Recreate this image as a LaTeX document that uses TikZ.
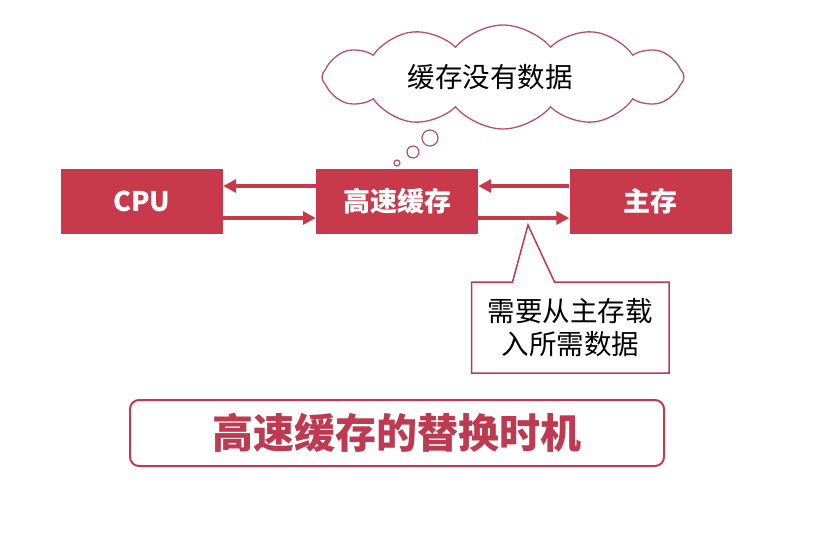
\documentclass[tikz,border=0pt]{standalone}
\usepackage{fontspec}
\setmainfont{Noto Sans CJK SC}
\usetikzlibrary{shapes.symbols,arrows.meta,calc}
\definecolor{boxred}{HTML}{C8394B}
\definecolor{linered}{HTML}{BE3A50}
\definecolor{cloudred}{HTML}{B65066}
\tikzset{
  x=1pt,y=-1pt,
  unitbox/.style={fill=boxred,draw=none,minimum width=162pt,minimum height=65pt,inner sep=0pt,
     text=white,font=\fontsize{27pt}{30pt}\selectfont\bfseries},
  flow/.style={draw=boxred,line width=4pt,-{Triangle[length=13pt,width=13pt]}},
}
\begin{document}
\begin{tikzpicture}
\useasboundingbox (0,0) rectangle (832,557);
% cloud
\node[cloud,draw=cloudred,line width=1.3pt,cloud puffs=12,cloud puff arc=100,aspect=3.4,
      minimum width=362pt,minimum height=104pt,inner sep=0pt] (cloud) at (503,77) {};
\node[font=\fontsize{27.5pt}{30pt}\selectfont] (cloudtext) at (490,77) {缓存没有数据};
\node[circle,draw=cloudred,line width=1.2pt,minimum size=16pt,inner sep=0pt] (b1) at (430,138) {};
\node[circle,draw=cloudred,line width=1.2pt,minimum size=12pt,inner sep=0pt] (b2) at (413,152) {};
\node[circle,draw=cloudred,line width=1.2pt,minimum size=6pt,inner sep=0pt] (b3) at (397,163) {};
% boxes
\node[unitbox] (cpu) at (142,201.5) {CPU};
\node[unitbox] (cache) at (397,201.5) {高速缓存};
\node[unitbox] (mem) at (650.5,201.5) {主存};
% arrows
\draw[flow] ([yshift=15.5pt]cache.west) -- ([yshift=15.5pt]cpu.east);
\draw[flow] ([yshift=-16.5pt]cpu.east) -- ([yshift=-16.5pt]cache.west);
\draw[flow] ([yshift=15.5pt]mem.west) -- ([yshift=15.5pt]cache.east);
\draw[flow] ([yshift=-16.5pt]cache.east) -- ([yshift=-16.5pt]mem.west);
% callout
\coordinate (tip) at (528,225);
\coordinate (nw) at (471.5,282);
\coordinate (se) at (669,373);
\draw[draw=linered,line width=1.5pt,fill=white,line join=miter]
  (nw) -- ($(nw)+(41,0)$) -- (tip) -- ($(nw)+(83,0)$)
  -- (nw -| se) -- (se) -- (se -| nw) -- cycle;
\node[inner sep=0pt,align=center,font=\fontsize{27.5pt}{33pt}\selectfont] (note)
  at ($(nw)!0.5!(se)$) {需要从主存载\\入所需数据};
% title
\node[draw=linered,line width=2pt,rounded corners=9pt,minimum width=534pt,minimum height=66pt,
      text=linered,font=\fontsize{41pt}{44pt}\selectfont\bfseries] (title) at (397,433) {高速缓存的替换时机};
\end{tikzpicture}
\end{document}
